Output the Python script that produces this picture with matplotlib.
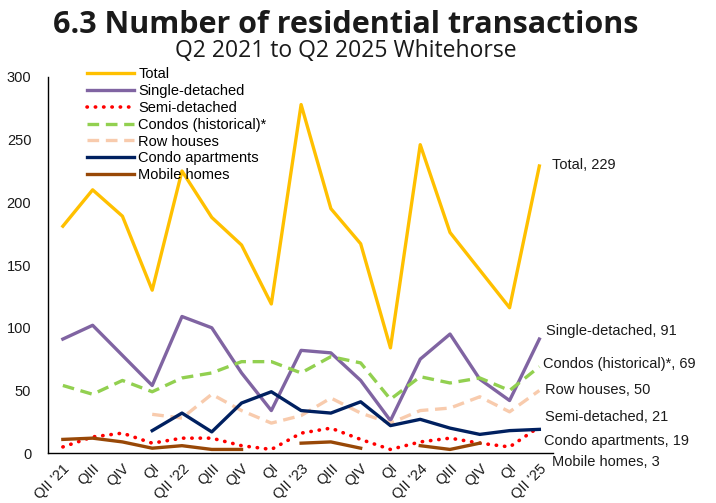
import numpy as np
import matplotlib
matplotlib.use("Agg")
import matplotlib.pyplot as plt

# quarters Q2 2021 .. Q2 2025
quarters = ["QII '21", "QIII", "QIV", "QI", "QII '22", "QIII", "QIV", "QI", "QII '23",
            "QIII", "QIV", "QI", "QII '24", "QIII", "QIV", "QI", "QII '25"]

nan = np.nan
total = [181, 210, 189, 130, 225, 188, 166, 119, 278, 195, 167, 84, 246, 176, 146, 116, 229]
single_detached = [91, 102, 78, 54, 109, 100, 64, 34, 82, 80, 58, 26, 75, 95, 59, 42, 91]
semi_detached = [5, 13, 16, 8, 12, 12, 6, 3, 16, 20, 11, 3, 9, 12, 8, 5, 21]
condos_hist = [54, 47, 58, 49, 60, 64, 73, 73, 64, 77, 72, 43, 61, 56, 60, 50, 69]
row_houses = [nan, nan, nan, 31, 28, 47, 34, 24, 30, 44, 32, 24, 34, 36, 45, 33, 50]
condo_apts = [nan, nan, nan, 18, 32, 17, 40, 49, 34, 32, 41, 22, 27, 20, 15, 18, 19]
mobile_homes = [11, 12, 9, 4, 6, 3, 3, nan, 8, 9, 4, nan, 6, 3, 8, nan, 3]

series = [
    ("Total", total, "#FFC000", "-", (13, 1)),
    ("Single-detached", single_detached, "#8064A2", "-", (7, 8)),
    ("Semi-detached", semi_detached, "#FF0000", ":", (6, 10)),
    ("Condos (historical)*", condos_hist, "#92D050", "--", (4, 3)),
    ("Row houses", row_houses, "#F8CBAD", "--", (6, 0)),
    ("Condo apartments", condo_apts, "#002060", "-", (5, -12)),
    ("Mobile homes", mobile_homes, "#984807", "-", (13, -13)),
]

plt.rcParams["font.family"] = ["Liberation Sans", "DejaVu Sans"]

fig = plt.figure(figsize=(7.16, 5.03), dpi=100)
ax = fig.add_axes([0.067, 0.099, 0.705, 0.748])

x = np.arange(len(quarters))
for name, vals, col, ls, off in series:
    if ls == ":":
        ax.plot(x, vals, color=col, lw=2.6, linestyle=(0, (0.1, 2.2)),
                dash_capstyle="round", label=name)
    elif ls == "--":
        ax.plot(x, vals, color=col, lw=2.4, linestyle=(0, (3.5, 2)), label=name)
    else:
        ax.plot(x, vals, color=col, lw=2.4, label=name)
    # label at the end of each line
    ax.annotate(f"{name}, {vals[-1]}", xy=(x[-1], vals[-1]), xytext=off,
                textcoords="offset pixels", fontsize=10.5, va="center", ha="left",
                color="#1a1a1a", annotation_clip=False)

ax.set_xlim(-0.5, 16.45)
ax.set_ylim(0, 300)
ax.set_yticks(range(0, 301, 50))
ax.set_xticks(x)
ax.set_xticklabels(quarters, rotation=45, ha="right", rotation_mode="anchor")
ax.tick_params(axis="both", length=0, labelsize=10.5, colors="#1a1a1a")
ax.tick_params(axis="y", pad=12)
ax.tick_params(axis="x", pad=6)
for s in ["top", "right"]:
    ax.spines[s].set_visible(False)
for s in ["left", "bottom"]:
    ax.spines[s].set_color("black")
    ax.spines[s].set_linewidth(1)

leg = ax.legend(loc="upper left", bbox_to_anchor=(0.122, 0.867), bbox_transform=fig.transFigure,
                frameon=False, fontsize=10.5, handlelength=3.2, handletextpad=0.3,
                labelspacing=0.2, borderaxespad=0, borderpad=0)

fig.text(0.483, 0.934, "6.3 Number of residential transactions", ha="center", va="baseline",
         fontsize=22, fontweight="bold", family=["Open Sans", "DejaVu Sans"], color="#1a1a1a")
fig.text(0.483, 0.887, "Q2 2021 to Q2 2025 Whitehorse", ha="center", va="baseline",
         fontsize=16.5, family=["Open Sans", "DejaVu Sans"], color="#1a1a1a")

fig.savefig("out.png", dpi=100)
